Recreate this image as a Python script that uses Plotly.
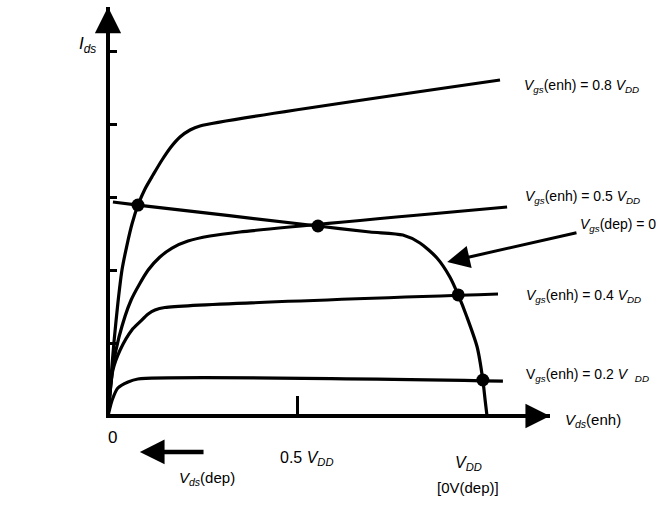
import plotly.graph_objects as go

# x in units of V_DD (enhancement Vds), y in arbitrary Ids units
x_08 = [0, 0.0079, 0.0158, 0.0264, 0.0369, 0.0501, 0.0633, 0.0792, 0.0976, 0.1187, 0.1425, 0.1662, 0.190, 0.2164, 0.2427, 1.0343]
y_08 = [0, 0.521, 1.014, 1.562, 2.000, 2.342, 2.630, 2.890, 3.110, 3.301, 3.507, 3.685, 3.822, 3.918, 3.973, 4.603]

x_05 = [0, 0.013, 0.029, 0.061, 0.106, 0.137, 0.169, 0.211, 0.269, 0.348, 1.053]
y_05 = [0, 0.671, 1.082, 1.589, 2.000, 2.178, 2.301, 2.397, 2.466, 2.521, 2.863]

x_04 = [0, 0.013, 0.032, 0.063, 0.084, 0.106, 0.124, 0.150, 1.029]
y_04 = [0, 0.630, 0.904, 1.178, 1.288, 1.397, 1.452, 1.486, 1.671]

x_02 = [0, 0.011, 0.026, 0.053, 0.079, 1.042]
y_02 = [0, 0.219, 0.384, 0.466, 0.507, 0.479]

x_dep = [0.013, 0.079, 0.554, 0.691, 0.778, 0.823, 0.868, 0.902, 0.924, 0.947, 0.974, 0.989, 0.995, 1.0]
y_dep = [2.932, 2.890, 2.603, 2.521, 2.479, 2.370, 2.164, 1.904, 1.658, 1.356, 0.945, 0.493, 0.219, 0.0]

x_op = [0.079, 0.554, 0.924, 0.989]
y_op = [2.890, 2.603, 1.658, 0.493]

y_ticks = [1, 2, 3, 4, 5]
x_ticks = [0.5]

XMIN, XMAX = 0.00528, 1.1662
YMIN, YMAX = 0.0274, 5.603
PX_X = 379.0   # pixels per x unit
PX_Y = 73.0    # pixels per y unit


def px(x):
    return (x - XMIN) / (XMAX - XMIN)


def py(y):
    return (y - YMIN) / (YMAX - YMIN)


FONT = "Liberation Sans, Arial, sans-serif"
LW = 3.2

fig = go.Figure()
for xs, ys in [(x_08, y_08), (x_05, y_05), (x_04, y_04), (x_02, y_02), (x_dep, y_dep)]:
    fig.add_trace(go.Scatter(x=xs, y=ys, mode="lines", cliponaxis=False,
                             line=dict(color="black", width=LW, shape="spline", smoothing=0.7),
                             hoverinfo="skip", showlegend=False))
fig.add_trace(go.Scatter(x=x_op, y=y_op, mode="markers", cliponaxis=False,
                         marker=dict(color="black", size=13), showlegend=False, hoverinfo="skip"))

labels = [
    (1.092, 4.521, "<i>V</i><sub><i>gs</i></sub>(enh) = 0.8 <i>V</i><sub><i>DD</i></sub>", "left", 14),
    (1.095, 3.000, "<i>V</i><sub><i>gs</i></sub>(enh) = 0.5 <i>V</i><sub><i>DD</i></sub>", "left", 14),
    (1.240, 2.616, "<i>V</i><sub><i>gs</i></sub>(dep) = 0", "left", 14),
    (1.097, 1.644, "<i>V</i><sub><i>gs</i></sub>(enh) = 0.4 <i>V</i><sub><i>DD</i></sub>", "left", 14),
    (1.097, 0.562, "V<sub><i>gs</i></sub>(enh) = 0.2 <i>V</i>  <sub><i>DD</i></sub>", "left", 14),
    (1.200, -0.055, "<i>V</i><sub><i>ds</i></sub>(enh)", "left", 15),
    (-0.053, 5.082, "<i>I</i><sub><i>ds</i></sub>", "center", 17),
    (0.013, -0.301, "0", "center", 17),
    (0.525, -0.589, "0.5 <i>V</i><sub><i>DD</i></sub>", "center", 16),
    (0.950, -0.644, "<i>V</i><sub><i>DD</i></sub>", "center", 16),
    (0.950, -0.973, "[0V(dep)]", "center", 15),
    (0.261, -0.863, "<i>V</i><sub><i>ds</i></sub>(dep)", "center", 15),
]
for x, y, t, anc, sz in labels:
    fig.add_annotation(x=px(x), y=py(y), xref="paper", yref="paper", text=t, showarrow=False,
                       xanchor=anc, yanchor="middle",
                       font=dict(family=FONT, size=sz, color="black"))

arrows = [
    # tip x, tip y, tail x, tail y, width, size
    (0.0, 5.603, 0.0, 5.0, 3.5, 1.5),
    (1.166, 0.0, 1.05, 0.0, 3.5, 1.4),
    (0.895, 2.110, 1.240, 2.514, 3.0, 1.5),
    (0.084, -0.493, 0.256, -0.493, 4.5, 1.1),
]
for tx, ty, ax, ay, w, s in arrows:
    fig.add_annotation(x=px(tx), y=py(ty), xref="paper", yref="paper",
                       axref="pixel", ayref="pixel",
                       ax=(ax - tx) * PX_X, ay=-(ay - ty) * PX_Y,
                       text="", showarrow=True, arrowhead=2, arrowwidth=w, arrowsize=s,
                       arrowcolor="black", standoff=0)

fig.update_layout(
    width=660, height=507,
    margin=dict(l=110, r=110, t=7, b=93, pad=0),
    paper_bgcolor="white", plot_bgcolor="white",
    xaxis=dict(range=[XMIN, XMAX], showline=True, linewidth=3.5, linecolor="black",
               ticks="inside", tickvals=x_ticks, ticklen=18, tickwidth=3, tickcolor="black",
               showticklabels=False, showgrid=False, zeroline=False, fixedrange=True),
    yaxis=dict(range=[YMIN, YMAX], showline=True, linewidth=3.5, linecolor="black",
               ticks="inside", tickvals=y_ticks, ticklen=7, tickwidth=3, tickcolor="black",
               showticklabels=False, showgrid=False, zeroline=False, fixedrange=True),
)
fig.write_html("out.html", config={"displayModeBar": False},
               post_script="document.body.style.margin='0px';")
